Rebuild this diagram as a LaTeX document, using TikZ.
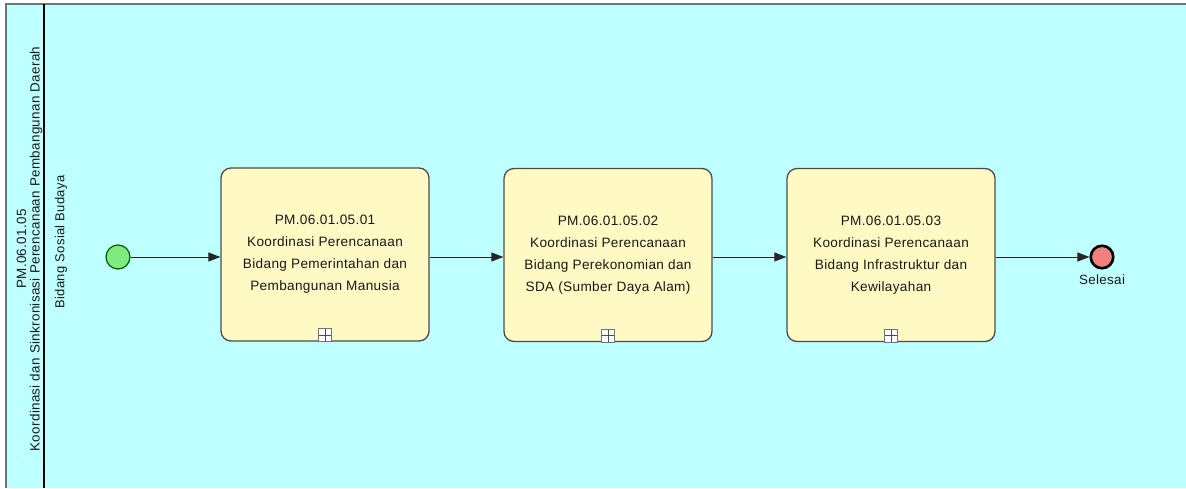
\documentclass[tikz,border=0pt]{standalone}
\usepackage{fontspec}
\setmainfont{Liberation Sans}[LetterSpace=2.5]
\usetikzlibrary{arrows.meta}
\usetikzlibrary{positioning}

\definecolor{poolcyan}{HTML}{BEFFFF}
\definecolor{taskyellow}{HTML}{FFF9C4}
\definecolor{startgreen}{HTML}{7FEA7F}
\definecolor{endred}{HTML}{F08080}

\tikzset{
  task/.style={draw=black!70, line width=1.3pt, fill=taskyellow, rounded corners=10pt,
    minimum width=208pt, minimum height=173pt, align=center, text=black!90,
    font=\fontsize{13.6}{22}\selectfont},
  flow/.style={draw=black!85, line width=1pt, -{Triangle[length=12pt,width=9pt]}},
  subproc/.style={draw=black!55, fill=white, minimum size=13pt, inner sep=0pt,
    path picture={
      \draw[black!70] (path picture bounding box.north) -- (path picture bounding box.south);
      \draw[black!70] (path picture bounding box.west) -- (path picture bounding box.east);
    }},
}

\begin{document}
\begin{tikzpicture}[x=1pt, y=-1pt]
  \useasboundingbox (0,0) rectangle (1186,488);
  % pool and lane
  \fill[poolcyan] (6,4) rectangle (1186,488);
  \draw[black!55, line width=2pt] (6,488) -- (6,4) -- (1186,4);
  \draw[black, line width=1.6pt] (44,4) -- (44,488);
  \node[rotate=90, align=center, text=black!90, font=\fontsize{13.4}{13.5}\selectfont] (pool) at (29.5,249)
    {PM.06.01.05\\Koordinasi dan Sinkronisasi Perencanaan Pembangunan Daerah};
  \node[rotate=90, text=black!90, font=\fontsize{13}{15}\selectfont] (lane) at (61,242) {Bidang Sosial Budaya};

  % events and tasks
  \node[circle, draw=green!35!black, fill=startgreen, line width=1.2pt, minimum size=24pt, inner sep=0pt] (start) at (118,257) {};
  \node[task] (t1) at (325,254.5) {PM.06.01.05.01\\Koordinasi Perencanaan\\Bidang Pemerintahan dan\\Pembangunan Manusia};
  \node[task] (t2) at (608,255) {PM.06.01.05.02\\Koordinasi Perencanaan\\Bidang Perekonomian dan\\SDA (Sumber Daya Alam)};
  \node[task] (t3) at (891,255) {PM.06.01.05.03\\Koordinasi Perencanaan\\Bidang Infrastruktur dan\\Kewilayahan};
  \node[circle, draw=black, fill=endred, line width=2.6pt, minimum size=22.5pt, inner sep=0pt] (end) at (1102,257) {};
  \node[below=2pt of end, text=black!90, font=\fontsize{13.4}{15}\selectfont] (endlbl) {Selesai};

  \node[subproc, above=0pt of t1.south] (m1) {};
  \node[subproc, above=0pt of t2.south] (m2) {};
  \node[subproc, above=0pt of t3.south] (m3) {};

  % sequence flows
  \draw[flow] (start) -- (start -| t1.west);
  \draw[flow] (start -| t1.east) -- (start -| t2.west);
  \draw[flow] (start -| t2.east) -- (start -| t3.west);
  \draw[flow] (start -| t3.east) -- (end);
\end{tikzpicture}
\end{document}
